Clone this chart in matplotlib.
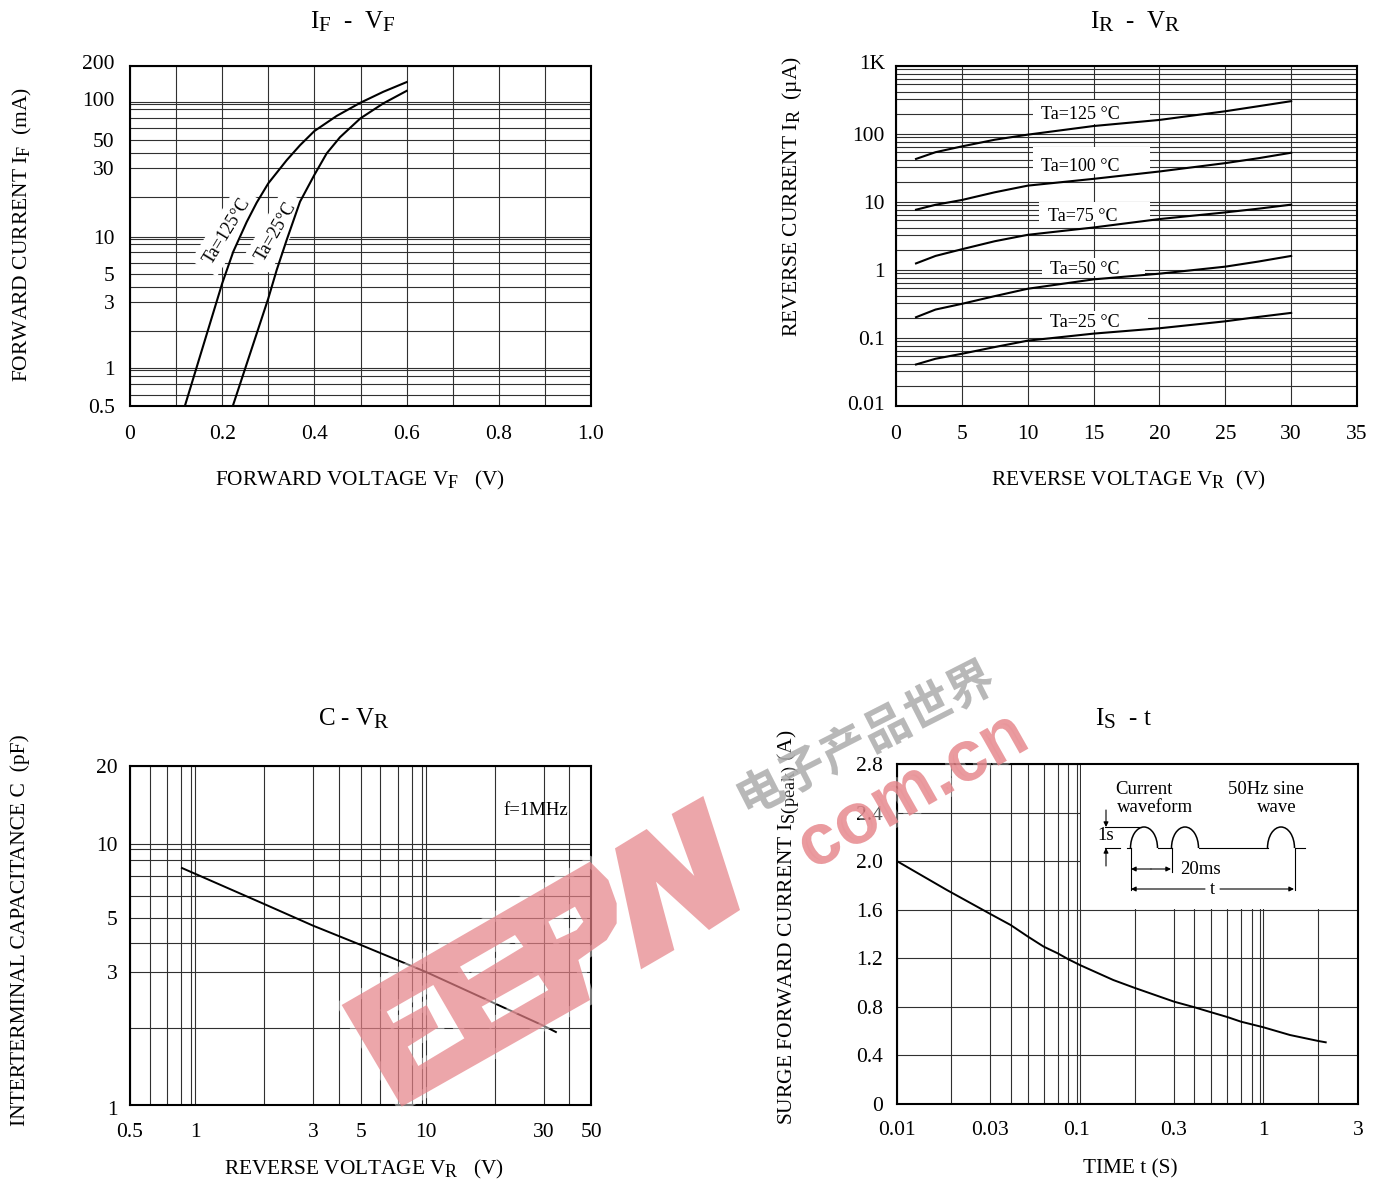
import numpy as np
import matplotlib
matplotlib.use("Agg")
import matplotlib.pyplot as plt
import matplotlib.patheffects as pe
import matplotlib._mathtext as mathtext_internal
from matplotlib.patches import Rectangle, Arc, PathPatch
from matplotlib.path import Path
from matplotlib.ticker import NullFormatter
from matplotlib.transforms import ScaledTranslation

plt.rcParams['font.family'] = ['Liberation Serif', 'DejaVu Serif']
plt.rcParams['mathtext.fontset'] = 'custom'
plt.rcParams['mathtext.rm'] = 'Liberation Serif'
plt.rcParams['mathtext.default'] = 'rm'
# the subscripts in the datasheet are only a little smaller than the text
mathtext_internal.SHRINK_FACTOR = 0.85

W, H = 1385, 1185
FS = 15.5

# IF - VF
vf_125 = [0.119, 0.20, 0.2241, 0.2531, 0.2748, 0.30, 0.3398, 0.3688, 0.3998, 0.4484, 0.4996, 0.5495, 0.60]
if_125 = [0.50, 4.34, 7.6, 12.8, 18.0, 25.3, 38, 49.5, 63.5, 83, 104.6, 127, 150.6]
vf_25 = [0.223, 0.30, 0.3182, 0.3398, 0.3688, 0.3998, 0.4267, 0.4555, 0.4996, 0.5495, 0.60]
if_25 = [0.50, 3.33, 5.49, 9.31, 18.3, 29.3, 42.9, 57, 79.4, 103.5, 129]
a_xgrid = [0.1, 0.2, 0.3, 0.4, 0.5, 0.6, 0.7, 0.8, 0.9]
a_ygrid = [106.5, 102.8, 93.1, 80.3, 66.7, 54.2, 43.1, 33.3, 20.0,
           9.77, 9.43, 8.67, 7.54, 6.24, 5.09, 4.05, 3.11, 1.87,
           0.982, 0.943, 0.848, 0.733, 0.610]
a_xticks = [0, 0.2, 0.4, 0.6, 0.8, 1.0]
a_xlabels = ['0', '0.2', '0.4', '0.6', '0.8', '1.0']
a_yticks = [200, 106.5, 54.2, 33.3, 9.77, 5.09, 3.11, 0.982, 0.5]
a_ylabels = ['200', '100', '50', '30', '10', '5', '3', '1', '0.5']

# IR - VR
vr = [1.52, 3, 5, 7.5, 10, 15, 20, 25, 27.5, 30]
ir_125 = [43, 54, 65.7, 82.4, 97.8, 131, 161, 216, 256, 304]
ir_100 = [7.7, 9.1, 10.7, 13.9, 17.4, 21.9, 28.1, 37.3, 44, 53]
ir_75 = [1.25, 1.61, 2.02, 2.65, 3.29, 4.22, 5.61, 7.03, 7.97, 9.14]
ir_50 = [0.202, 0.262, 0.318, 0.413, 0.53, 0.728, 0.883, 1.12, 1.33, 1.61]
ir_25 = [0.0408, 0.0495, 0.0586, 0.0736, 0.0914, 0.116, 0.139, 0.176, 0.204, 0.234]
b_names = ['Ta=125 °C', 'Ta=100 °C', 'Ta=75 °C', 'Ta=50 °C', 'Ta=25 °C']
b_text_x = [14.02, 14.02, 14.2, 14.35, 14.35]
b_text_y = [194, 33, 6.17, 1.03, 0.167]
b_box_x = [(10.43, 19.29), (10.43, 19.29), (10.86, 19.29), (11.06, 18.9), (11.06, 19.16)]
b_box_y = [(142, 315), (25.9, 64.2), (5.0, 9.89), (0.815, 1.52), (0.133, 0.248)]
b_mult = [1, 0.9, 0.76, 0.64, 0.54, 0.42, 0.33, 0.2]
b_decades = [1000, 100, 10, 1, 0.1]
b_xgrid = [5, 10, 15, 20, 25, 30]
b_yticks = [1000, 100, 10, 1, 0.1, 0.01]
b_ylabels = ['1K', '100', '10', '1', '0.1', '0.01']
b_xticks = [0, 5, 10, 15, 20, 25, 30, 35]

# C - VR
c_vr = [0.84, 1.907, 3.11, 5.03, 9.62, 31.3, 35.2]
c_val = [8.12, 5.91, 4.88, 4.11, 3.24, 2.01, 1.906]
c_xgrid = [0.611, 0.724, 0.832, 0.920, 0.957, 1.907, 3.11, 4.03, 5.03, 6.07,
           7.27, 8.36, 9.24, 9.62, 19.2, 31.3, 40.1]
c_ygrid = [10, 9.57, 8.69, 7.58, 6.34, 5.2, 4.2, 3.24, 1.98]
c_xticks = [0.5, 0.957, 3.11, 5.03, 9.62, 31.3, 50]
c_xlabels = ['0.5', '1', '3', '5', '10', '30', '50']
c_yticks = [20, 10, 5.2, 3.24, 1]
c_ylabels = ['20', '10', '5', '3', '1']

# IS - t
t_s = [0.01, 0.0185, 0.03172, 0.0408, 0.0506, 0.0614, 0.0730, 0.0833, 0.0966, 0.1453,
       0.1894, 0.3079, 0.3958, 0.4885, 0.5933, 0.7053, 0.9297, 1.294, 1.835, 2.012]
i_s = [2.0, 1.763, 1.565, 1.474, 1.378, 1.296, 1.241, 1.192, 1.143, 1.021,
       0.956, 0.843, 0.797, 0.755, 0.717, 0.678, 0.632, 0.568, 0.519, 0.508]
d_xgrid = [0.01958, 0.03172, 0.0408, 0.0506, 0.0614, 0.0730, 0.0833, 0.0924, 0.0966,
           0.1894, 0.3079, 0.3958, 0.4885, 0.5933, 0.7053, 0.8085, 0.8892, 0.9297, 1.835]
d_ygrid = [0.4, 0.8, 1.2, 1.6, 2.0, 2.4]
d_xticks = [0.01, 0.03172, 0.0924, 0.3079, 0.9297, 3]
d_xlabels = ['0.01', '0.03', '0.1', '0.3', '1', '3']
d_yticks = [0, 0.4, 0.8, 1.2, 1.6, 2.0, 2.4, 2.8]
d_ylabels = ['0', '0.4', '0.8', '1.2', '1.6', '2.0', '2.4', '2.8']

fig = plt.figure(figsize=(W / 100, H / 100), dpi=100, facecolor='white')


def panel(l, r, t, b, xlim, ylim, xscale, yscale, xgrid, ygrid, xticks, xlabels,
          yticks, ylabels, xpad, ypad):
    ax = fig.add_axes([l / W, 1 - b / H, (r - l) / W, (b - t) / H])
    ax.set_xscale(xscale)
    ax.set_yscale(yscale)
    ax.set_xticks(xticks, xlabels)
    ax.set_yticks(yticks, ylabels)
    ax.set_xticks(xgrid, minor=True)
    ax.set_yticks(ygrid, minor=True)
    ax.xaxis.set_minor_formatter(NullFormatter())
    ax.yaxis.set_minor_formatter(NullFormatter())
    ax.set_xlim(xlim)
    ax.set_ylim(ylim)
    ax.set_axisbelow(True)
    ax.grid(which='both', color='#303030', lw=0.8)
    ax.tick_params(which='both', length=0)
    ax.tick_params(axis='x', labelsize=FS, pad=xpad)
    ax.tick_params(axis='y', labelsize=FS, pad=ypad)
    for s in ax.spines.values():
        s.set_linewidth(1.5)
    return ax


def labels(ax, l, r, t, b, title, tc, ty, xl, xc, xy, yl, yx, yc):
    ax.set_title(title, fontsize=18, x=(tc - l) / (r - l), y=(b - ty) / (b - t), va='center')
    ax.set_xlabel(xl, fontsize=FS - 0.2, va='center')
    ax.xaxis.set_label_coords(xc / W, 1 - xy / H, transform=fig.transFigure)
    ax.set_ylabel(yl, fontsize=FS, va='center')
    ax.yaxis.set_label_coords(yx / W, 1 - yc / H, transform=fig.transFigure)


def nudge(lab, dy_px):
    lab.set_transform(lab.get_transform() + ScaledTranslation(0, dy_px / 100, fig.dpi_scale_trans))


# --- IF - VF
ax1 = panel(130, 591, 66, 406, (0, 1), (0.5, 200), 'linear', 'log', a_xgrid, a_ygrid,
            a_xticks, a_xlabels, a_yticks, a_ylabels, 14, 11)
ax1.plot(vf_125, if_125, color='black', lw=1.5)
ax1.plot(vf_25, if_25, color='black', lw=1.5)
for x, y, s, rot in [(0.21, 10.9, 'Ta=125°C', 58.5), (0.317, 10.9, 'Ta=25°C', 60)]:
    ax1.text(x, y, s, fontsize=13, rotation=rot, rotation_mode='anchor', ha='center', va='center',
             zorder=1.5, bbox=dict(fc='white', ec='none', pad=5))
nudge(ax1.get_yticklabels()[0], 4)
nudge(ax1.get_yticklabels()[1], 3)
labels(ax1, 130, 591, 66, 406, 'I$_{F}$  -  V$_{F}$', 353, 30,
       'FORWARD VOLTAGE V$_{F}$   (V)', 360, 480, 'FORWARD CURRENT I$_{F}$  (mA)', 22, 234)

# --- IR - VR
ax2 = panel(896, 1357, 66, 406, (0, 35), (0.01, 1000), 'linear', 'log', b_xgrid,
            [d * m for d in b_decades for m in b_mult],
            b_xticks, [str(v) for v in b_xticks], b_yticks, b_ylabels, 14, 8)
for i, series in enumerate([ir_125, ir_100, ir_75, ir_50, ir_25]):
    x0, x1 = b_box_x[i]
    y0, y1 = b_box_y[i]
    ax2.add_patch(Rectangle((x0, y0), x1 - x0, y1 - y0, fc='white', ec='none', zorder=1))
    ax2.text(b_text_x[i], b_text_y[i], b_names[i], fontsize=13, ha='center', va='center', zorder=1.5)
    ax2.plot(vr, series, color='black', lw=1.5)
nudge(ax2.get_yticklabels()[0], 4)
nudge(ax2.get_yticklabels()[-1], 3)
labels(ax2, 896, 1357, 66, 406, 'I$_{R}$  -  V$_{R}$', 1136, 30,
       'REVERSE VOLTAGE V$_{R}$  (V)', 1128, 480, 'REVERSE CURRENT I$_{R}$  (µA)', 792, 197)

# --- C - VR
ax3 = panel(130, 591, 766, 1105, (0.5, 50), (1, 20), 'log', 'log', c_xgrid, c_ygrid,
            c_xticks, c_xlabels, c_yticks, c_ylabels, 13, 9)
ax3.plot(c_vr, c_val, color='black', lw=1.4)
ax3.text(0.81, 0.87, 'f=1MHz', transform=ax3.transAxes, fontsize=13.5, ha='left', va='center')
nudge(ax3.get_yticklabels()[-1], -3)
labels(ax3, 130, 591, 766, 1105, 'C - V$_{R}$', 354, 727,
       'REVERSE VOLTAGE V$_{R}$   (V)', 364, 1169, 'INTERTERMINAL CAPACITANCE C  (pF)', 20, 930)

# --- IS - t
ax4 = panel(897, 1358, 764, 1104, (0.01, 3), (0, 2.8), 'log', 'linear', d_xgrid, d_ygrid,
            d_xticks, d_xlabels, d_yticks, d_ylabels, 12, 10)
ax4.add_patch(Rectangle((0.098, 1.61), 3 - 0.098, 2.8 - 1.61, fc='white', ec='none', zorder=1))
ax4.plot(t_s, i_s, color='black', lw=1.4)
labels(ax4, 897, 1358, 764, 1104, 'I$_{S}$  - t', 1123, 727,
       'TIME t (S)', 1130, 1169, 'SURGE FORWARD CURRENT I$_{S(peak)}$ (A)', 788, 927)

# overlay in pixel units for the waveform sketch and the watermark
ov = fig.add_axes([0, 0, 1, 1], zorder=10)
ov.set_xlim(0, W)
ov.set_ylim(H, 0)
ov.axis('off')
ov.patch.set_alpha(0)

for x, y, s in [(1144, 789, 'Current'), (1155, 808, 'waveform'), (1266, 789, '50Hz sine'),
                (1277, 808, 'wave'), (1106, 836, '1s'), (1200, 869, '20ms')]:
    ov.text(x, y, s, fontsize=13.5, ha='center', va='center')

base, top = 848, 827
for x0, x1 in [(1130.5, 1157.5), (1171.5, 1198.5), (1267.5, 1294.5)]:
    ov.add_patch(Arc(((x0 + x1) / 2, base), x1 - x0, 2 * (base - top), theta1=180, theta2=360, lw=1.1, color='black'))
seg = [((1127, 1130.5), (base, base)), ((1157.5, 1171.5), (base, base)), ((1198.5, 1267.5), (base, base)),
       ((1294.5, 1305), (base, base)), ((1105, 1120), (base, base)), ((1105, 1141), (827, 827)),
       ((1130.5, 1130.5), (base, 890)), ((1171.5, 1171.5), (base, 872)), ((1294.5, 1294.5), (base, 890))]
for xs, ys in seg:
    ov.plot(xs, ys, color='black', lw=0.8)


def arrow(x0, y0, x1, y1):
    ov.annotate('', xy=(x1, y1), xytext=(x0, y0),
                arrowprops=dict(arrowstyle='-|>', color='black', lw=0.8, mutation_scale=7, shrinkA=0, shrinkB=0))


arrow(1106, 810, 1106, 827)
arrow(1106, 866, 1106, 848)
arrow(1151, 869, 1131, 869)
arrow(1151, 869, 1171, 869)
arrow(1205, 889, 1131, 889)
arrow(1220, 889, 1294, 889)
ov.text(1212, 889, 't', fontsize=13.5, ha='center', va='center')

# watermark, read in zoom coordinates of the logo (3x, origin 335,790)
outer = [(20, 645), (765, 215), (820, 270), (845, 340), (845, 400), (815, 450), (730, 510), (765, 630), (200, 950)]
holes = [[(155, 665), (295, 585), (388, 745), (250, 828), (218, 770), (310, 712), (275, 645), (175, 700)],
         [(375, 530), (540, 435), (565, 470), (400, 570)],
         [(440, 650), (610, 555), (640, 600), (470, 698)],
         [(640, 395), (720, 350), (745, 395), (725, 420), (665, 448)]]
w_shape = [(840, 175), (935, 117), (1078, 258), (1010, 72), (1105, 18), (1215, 360),
           (1122, 420), (963, 275), (1018, 480), (918, 538)]


def to_px(pts):
    return [(335 + x / 3, 790 + y / 3) for x, y in pts]


def ring(pts):
    p = to_px(pts)
    return Path(p + [p[0]], closed=True)


logo = Path.make_compound_path(ring(outer), ring(w_shape), *[ring(h[::-1]) for h in holes])
ov.add_patch(PathPatch(logo, fc='none', ec='white', lw=7, alpha=0.45))
ov.add_patch(PathPatch(logo, fc='#E58086', ec='none', alpha=0.7))

glow = [pe.Stroke(linewidth=6, foreground='white', alpha=0.35), pe.Normal()]
ov.text(913, 792, 'com.cn', fontsize=52, family=['Liberation Sans'], weight='bold', color='#E58086',
        alpha=0.72, rotation=29.5, ha='center', va='center', rotation_mode='anchor', path_effects=glow)
ov.text(866, 740, '电子产品世界', fontsize=34, family=['Noto Sans CJK SC'], weight='bold', color='#A8A8A8',
        alpha=0.75, rotation=27, ha='center', va='center', rotation_mode='anchor', path_effects=glow)

fig.savefig('out.png', dpi=100)
